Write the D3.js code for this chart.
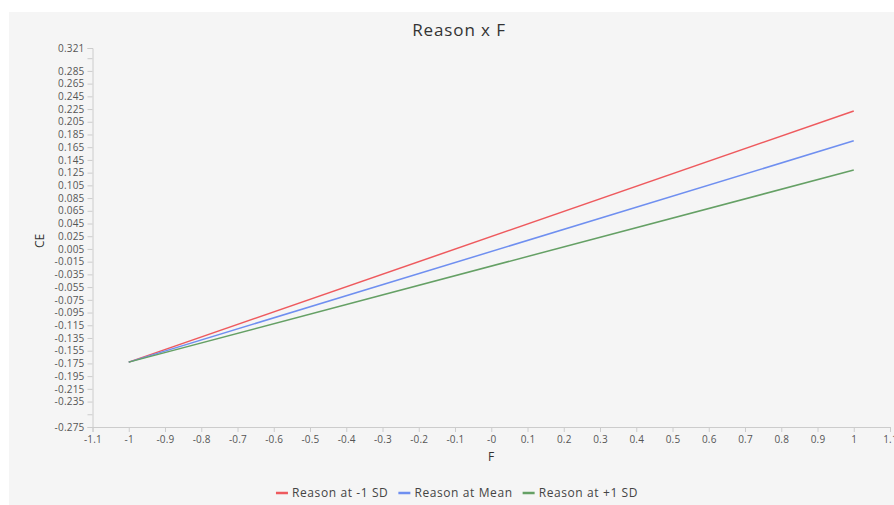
<!DOCTYPE html>
<html><head><meta charset="utf-8">
<script src="https://cdn.jsdelivr.net/npm/d3@7/dist/d3.min.js"></script>
<style>
html,body{margin:0;padding:0;background:#fff;}
svg{display:block;}
text{font-family:"Open Sans","Noto Sans",sans-serif;}
</style></head><body>
<svg id="c" width="894" height="505"></svg>
<script>
const title = "Reason x F";
const xLabel = "F";
const yLabel = "CE";
const xTicks = [-1.1,-1,-0.9,-0.8,-0.7,-0.6,-0.5,-0.4,-0.3,-0.2,-0.1,0,0.1,0.2,0.3,0.4,0.5,0.6,0.7,0.8,0.9,1,1.1];
const yTicks = [-0.275,-0.255,-0.235,-0.215,-0.195,-0.175,-0.155,-0.135,-0.115,-0.095,-0.075,-0.055,-0.035,-0.015,0.005,0.025,0.045,0.065,0.085,0.105,0.125,0.145,0.165,0.185,0.205,0.225,0.245,0.265,0.285,0.305,0.321];
const yHidden = [-0.255, 0.305];
const fValues = [-1, 1];
const seriesNames = ["Reason at -1 SD","Reason at Mean","Reason at +1 SD"];
const seriesColors = ["#ee5a5e","#6f8ff0","#65a065"];
const seriesLow = [-0.173,-0.173,-0.173];
const seriesHigh = [0.222,0.175,0.129];

const svg = d3.select("#c");
svg.append("rect").attr("x",9).attr("y",12).attr("width",885).attr("height",493).attr("fill","#f5f5f5");

const x = d3.scaleLinear().domain([-1.1,1.1]).range([92.5,890]);
const y = d3.scaleLinear().domain([-0.275,0.321]).range([427,48]);

const fmtX = v => Math.abs(v)<1e-9 ? "-0" : String(+v.toFixed(1));
const fmtY = v => yHidden.some(h=>Math.abs(h-v)<1e-9) ? "" : String(+v.toFixed(3));

const gx = svg.append("g").attr("transform","translate(0,427)")
  .call(d3.axisBottom(x).tickValues(xTicks).tickFormat(fmtX).tickSize(5).tickPadding(4));
const gy = svg.append("g").attr("transform","translate(92.5,0)")
  .call(d3.axisLeft(y).tickValues(yTicks).tickFormat(fmtY).tickSize(5).tickPadding(3));
[gx,gy].forEach(g=>{
  g.select(".domain").attr("stroke","#ccc");
  g.selectAll(".tick line").attr("stroke","#ccc");
  g.selectAll(".tick text").attr("fill","#555").style("font-size","10px").style("letter-spacing","0.2px");
});

svg.append("text").attr("x",459).attr("y",36).attr("text-anchor","middle")
  .attr("fill","#333").style("font-size","17px").style("letter-spacing","0.9px").text(title);
svg.append("text").attr("x",491).attr("y",461).attr("text-anchor","middle")
  .attr("fill","#333").style("font-size","12px").text(xLabel);
svg.append("text").attr("transform","translate(44,241) rotate(-90)").attr("text-anchor","middle")
  .attr("fill","#333").style("font-size","12px").text(yLabel);

const line = d3.line().x(d=>x(d[0])).y(d=>y(d[1]));
seriesNames.forEach((n,i)=>{
  const pts = [[fValues[0],seriesLow[i]],[fValues[1],seriesHigh[i]]];
  svg.append("path").datum(pts).attr("d",line).attr("fill","none")
    .attr("stroke",seriesColors[i]).attr("stroke-width",1.5);
});

// legend
const lg = svg.append("g");
let cx = 0;
seriesNames.forEach((n,i)=>{
  const g = lg.append("g").attr("transform",`translate(${cx},0)`);
  g.append("line").attr("x1",0).attr("x2",12).attr("y1",0).attr("y2",0)
    .attr("stroke",seriesColors[i]).attr("stroke-width",2.5);
  const t = g.append("text").attr("x",16).attr("y",4).attr("fill","#444")
    .style("font-size","12px").style("letter-spacing","0.6px").text(n);
  cx += 16 + t.node().getComputedTextLength() + 10;
});
const totalW = cx - 10;
lg.attr("transform",`translate(${457-totalW/2},493)`);
</script>
</body></html>
